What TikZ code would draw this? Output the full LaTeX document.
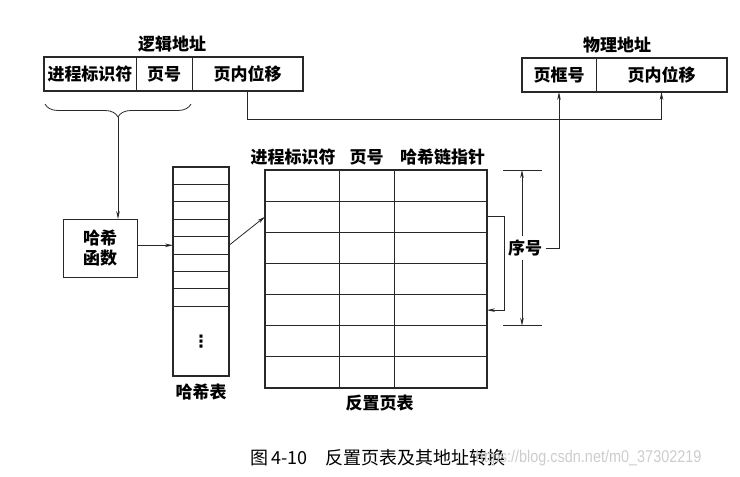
\documentclass[tikz,border=0pt]{standalone}
\usepackage{fontspec}
\setmainfont{Noto Sans CJK SC}
\newfontfamily\markfont{Liberation Sans}
\newfontfamily\symbolfont{DejaVu Sans}
\usetikzlibrary{calc,positioning,arrows.meta,decorations.pathreplacing}
\definecolor{LineGray}{RGB}{40,40,40}
\definecolor{MarkGray}{RGB}{205,205,205}

\begin{document}
\begin{tikzpicture} [x=1pt, y=-1pt, >={Stealth[length=8pt,width=3.6pt]}, LineGray, text=black, line width=0.8pt,
	   every node/.style={font=\fontsize{17}{20}\selectfont\bfseries},
	   addrcell/.style = {rectangle, draw, minimum width=#1, minimum height=34pt,
	                      inner sep=0pt, outer sep=0pt},
	   tablecell/.style 2 args = {rectangle, draw, minimum width=#1, minimum height=#2,
	                              inner sep=0pt, outer sep=0pt},
	   outline/.style = {line width=1.3pt}]
	\useasboundingbox (0,0) rectangle (740,477);

	%% Logical address
	\node [addrcell={92pt}] (lpid) at (90,74) {进程标识符};
	\node [addrcell={56pt},right=0pt of lpid] (lpage) {页号};
	\node [addrcell={111pt},right=0pt of lpage] (loff) {页内位移};
	\draw [outline] (lpid.north west) rectangle (loff.south east);
	\node [above=1pt of lpage.north,xshift=8pt] (ltitle) {逻辑地址};

	%% Physical address
	\node [addrcell={74pt}] (pframe) at (559,75) {页框号};
	\node [addrcell={131pt},right=0pt of pframe] (poff) {页内位移};
	\draw [outline] (pframe.north west) rectangle (poff.south east);
	\node [above=1pt of pframe.north east,xshift=21pt] (ptitle) {物理地址};

	%% Hash function
	\node [tablecell={74pt}{58pt},align=center] (hashfn) at (100,248) {哈希\\函数};

	%% Hash table
	\foreach \i in {1,...,8}
		\node [tablecell={56pt}{17.4pt}] (ht\i) at (201,{167+17.4*(\i-0.5)}) {};
	\node [tablecell={56pt}{69.8pt},below=0pt of ht8] (htrest) {\symbolfont ⋮};
	\draw [outline] (ht1.north west) rectangle (htrest.south east);
	\node [below=4pt of htrest] (htlabel) {哈希表};

	%% Inverted page table
	\foreach \r in {1,...,7}
		\foreach \c/\w/\x in {1/74/302,2/55/366.5,3/93/440.5}
			\node [tablecell={\w pt}{31.14pt}] (ipt-\r-\c) at (\x,{170+31.14*(\r-0.5)}) {};
	\draw [outline] (ipt-1-1.north west) rectangle (ipt-7-3.south east);
	\node [above=1pt of ipt-1-1.north,xshift=-9pt] (hpid) {进程标识符};
	\node [above=1pt of ipt-1-2.north] (hpage) {页号};
	\node [above=1pt of ipt-1-3.north,xshift=2pt] (hchain) {哈希链指针};
	\node [below=3pt of ipt-7-2.south,xshift=13pt] (iptlabel) {反置页表};

	%% Brace over process id and page number
	\draw [decorate,decoration={brace,amplitude=13pt,aspect=0.5}]
	      ($(lpage.south east)+(-1,13)$) -- ($(lpid.south west)+(1,13)$);
	\coordinate (btip) at ($(lpid.south west)!0.5!(lpage.south east)+(0,26)$);

	%% Simple paths
	\draw [->] (btip) -- (btip |- hashfn.north);
	\draw [->] (hashfn.east |- ht5.west) -- (ht5.west);
	\draw [->] (ht5.east) -- (ipt-2-1.west);
	\draw [->] (loff.south) -- ++(0,28) -| (poff.south);

	%% Hash chain
	\draw [->] (ipt-2-3.east) -- ++(17,0) |- (ipt-5-3.east);

	%% Sequence number
	\coordinate (dtop) at ($(ipt-1-3.north east)+(16,0)$);
	\coordinate (dbot) at ($(ipt-5-3.south east)+(16,0)$);
	\draw (dtop) -- ++(39,0);
	\draw (dbot) -- ++(39,0);
	\node (seq) at (525,248) {序号};
	\draw [->] ([xshift=-3pt]seq.north) -- ([xshift=-3pt]seq.north |- dtop);
	\draw [->] ([xshift=-3pt]seq.south) -- ([xshift=-3pt]seq.south |- dbot);
	\draw [->] (seq.east) -| (pframe.south);

	%% Caption
	\node [font=\fontsize{18}{22}\selectfont] (caption) at (378,458) {图\,4-10\quad 反置页表及其地址转换};
	\node [anchor=west,text=MarkGray,font=\markfont\fontsize{17}{20}\selectfont] (mark) at (472,458)
	      {\scalebox{0.85}[1]{https://blog.csdn.net/m0\_37302219}};
\end{tikzpicture}
\end{document}
